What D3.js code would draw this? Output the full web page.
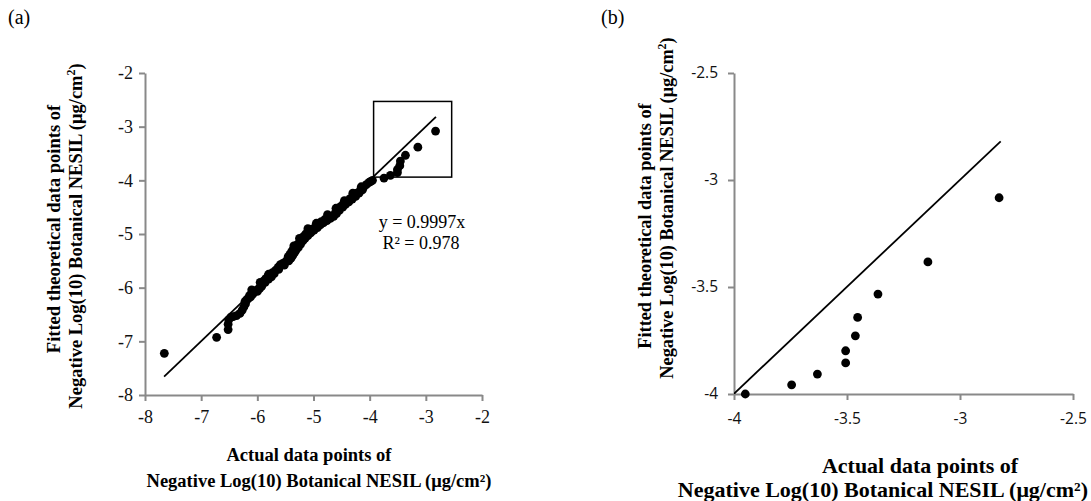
<!DOCTYPE html>
<html><head><meta charset="utf-8">
<script src="https://cdn.jsdelivr.net/npm/d3@7"></script>
<style>
html,body{margin:0;padding:0;background:#fff;}
svg{display:block;}
</style>
</head><body>
<svg id="c" width="1091" height="501"></svg>
<script>
// ---------- data ----------
const actualA = [-7.656,-6.725,-6.52,-6.52,-6.51,-6.47,-6.43,-6.37,-6.31,-6.27,-6.24,-6.22,-6.21,-6.20,-6.18,-6.16,-6.14,-6.12,-6.10,-6.10,-6.08,-6.06,-6.02,-6.00,-5.98,-5.96,-5.95,-5.94,-5.92,-5.91,-5.88,-5.86,-5.85,-5.81,-5.80,-5.80,-5.77,-5.75,-5.73,-5.70,-5.68,-5.63,-5.62,-5.59,-5.55,-5.52,-5.50,-5.46,-5.45,-5.44,-5.42,-5.40,-5.39,-5.37,-5.36,-5.35,-5.34,-5.33,-5.31,-5.29,-5.27,-5.25,-5.25,-5.23,-5.21,-5.19,-5.18,-5.15,-5.14,-5.10,-5.10,-5.09,-5.05,-5.03,-4.99,-4.97,-4.95,-4.93,-4.91,-4.88,-4.86,-4.82,-4.80,-4.76,-4.75,-4.74,-4.70,-4.68,-4.64,-4.62,-4.60,-4.59,-4.57,-4.54,-4.52,-4.48,-4.47,-4.45,-4.43,-4.41,-4.37,-4.35,-4.31,-4.30,-4.29,-4.25,-4.23,-4.19,-4.17,-4.15,-4.13,-4.11,-4.06,-4.01,-3.98,-3.95,-3.745,-3.631,-3.506,-3.506,-3.463,-3.453,-3.363,-3.142,-2.827];
const fittedA = [-7.223,-6.926,-6.78,-6.68,-6.60,-6.55,-6.54,-6.52,-6.48,-6.42,-6.36,-6.26,-6.30,-6.24,-6.22,-6.20,-6.15,-6.17,-6.10,-6.04,-6.12,-6.07,-6.05,-6.07,-6.02,-6.02,-5.90,-5.97,-5.97,-5.92,-5.87,-5.90,-5.83,-5.79,-5.84,-5.75,-5.76,-5.80,-5.72,-5.74,-5.68,-5.62,-5.66,-5.57,-5.55,-5.58,-5.52,-5.47,-5.42,-5.50,-5.38,-5.45,-5.33,-5.40,-5.28,-5.22,-5.35,-5.24,-5.30,-5.20,-5.25,-5.16,-5.08,-5.19,-5.10,-5.13,-5.05,-5.08,-5.00,-4.90,-5.03,-4.95,-4.98,-4.91,-4.93,-4.87,-4.80,-4.88,-4.82,-4.83,-4.77,-4.79,-4.73,-4.75,-4.64,-4.70,-4.71,-4.67,-4.67,-4.62,-4.52,-4.62,-4.55,-4.56,-4.49,-4.50,-4.44,-4.38,-4.45,-4.39,-4.40,-4.34,-4.35,-4.24,-4.29,-4.30,-4.24,-4.24,-4.19,-4.12,-4.18,-4.13,-4.08,-4.04,-4.02,-4.00,-3.957,-3.907,-3.855,-3.798,-3.728,-3.642,-3.533,-3.383,-3.083];
const actualB = [-3.95,-3.745,-3.631,-3.506,-3.506,-3.463,-3.453,-3.363,-3.142,-2.827];
const fittedB = [-4.00,-3.957,-3.907,-3.855,-3.798,-3.728,-3.642,-3.533,-3.383,-3.083];
const fitSlope = 0.9997;
const fitLineX = [-7.66, -2.82];
const zoomBoxX = [-3.93, -2.54];
const zoomBoxY = [-3.94, -2.53];
const ticksA = [-8,-7,-6,-5,-4,-3,-2];
const ticksB = [-4,-3.5,-3,-2.5];
const eqText = ["y = 0.9997x", "R² = 0.978"];
const xTitle = ["Actual data points of", "Negative Log(10) Botanical NESIL (μg/cm²)"];
const yTitle1 = "Fitted theoretical data points of";
const yTitle2 = "Negative Log(10) Botanical NESIL (μg/cm";
const panelLabels = ["(a)", "(b)"];

// ---------- drawing ----------
const svg = d3.select("#c");
const serif = "'Liberation Serif','Times New Roman',serif";
const sans = "'Open Sans','Liberation Sans',sans-serif";
const axisColor = "#898989";

function styleAxis(g, font, size) {
  g.select(".domain").attr("stroke", axisColor).attr("stroke-width", 2);
  g.selectAll(".tick line").attr("stroke", axisColor).attr("stroke-width", 2);
  g.selectAll(".tick text").attr("fill", "#111").style("font-family", font).style("font-size", size + "px");
}

function panel(opts) {
  const x = d3.scaleLinear().domain(opts.dom).range([opts.x0, opts.x1]);
  const y = d3.scaleLinear().domain(opts.dom).range([opts.y0, opts.y1]);
  const g = svg.append("g");

  const clipId = "clip" + opts.id;
  svg.append("defs").append("clipPath").attr("id", clipId)
    .append("rect").attr("x", opts.x0).attr("y", opts.y1)
    .attr("width", opts.x1 - opts.x0).attr("height", opts.y0 - opts.y1);

  const gx = g.append("g").attr("transform", `translate(0,${opts.y0})`)
    .call(d3.axisBottom(x).tickValues(opts.ticks).tickSize(6).tickSizeOuter(0).tickPadding(opts.xpad).tickFormat(d => String(d)));
  styleAxis(gx, opts.tickFont, opts.tickSize);
  const gy = g.append("g").attr("transform", `translate(${opts.x0},0)`)
    .call(d3.axisLeft(y).tickValues(opts.ticks).tickSize(6).tickSizeOuter(0).tickPadding(opts.ypad).tickFormat(d => String(d)));
  styleAxis(gy, opts.tickFont, opts.tickSize);

  // fit line
  g.append("path")
    .datum(fitLineX.map(v => [v, fitSlope * v]))
    .attr("clip-path", `url(#${clipId})`)
    .attr("fill", "none").attr("stroke", "#000").attr("stroke-width", 1.8)
    .attr("d", d3.line().x(d => x(d[0])).y(d => y(d[1])));

  // points
  g.append("g").selectAll("circle")
    .data(opts.ax.map((v, i) => [v, opts.fy[i]]))
    .join("circle")
    .attr("cx", d => x(d[0])).attr("cy", d => y(d[1]))
    .attr("r", opts.r).attr("fill", "#000");
  return {x, y, g};
}

const A = panel({id: "a", dom: [-8, -2], x0: 145, x1: 482, y0: 395, y1: 73,
  ticks: ticksA, ax: actualA, fy: fittedA, r: 4.4,
  tickFont: serif, tickSize: 18, xpad: 9, ypad: 6});

// zoom box in panel a
A.g.append("rect")
  .attr("x", A.x(zoomBoxX[0])).attr("y", A.y(zoomBoxY[1]))
  .attr("width", A.x(zoomBoxX[1]) - A.x(zoomBoxX[0]))
  .attr("height", A.y(zoomBoxY[0]) - A.y(zoomBoxY[1]))
  .attr("fill", "none").attr("stroke", "#000").attr("stroke-width", 1.5);

// equation
A.g.append("text").attr("x", 422).attr("y", 228).attr("text-anchor", "middle")
  .style("font-family", serif).style("font-size", "18px").text(eqText[0]);
A.g.append("text").attr("x", 421).attr("y", 249).attr("text-anchor", "middle")
  .style("font-family", serif).style("font-size", "18px").text(eqText[1]);

const B = panel({id: "b", dom: [-4, -2.5], x0: 734, x1: 1073, y0: 394, y1: 73,
  ticks: ticksB, ax: actualB, fy: fittedB, r: 4.4,
  tickFont: sans, tickSize: 15.5, xpad: 13, ypad: 10});

// titles
function yTitle(cx, cy, bx1, bx2, size) {
  svg.append("text").attr("transform", `translate(${bx1},${cy}) rotate(-90)`)
    .attr("text-anchor", "middle").style("font-family", serif).style("font-weight", "bold")
    .style("font-size", size + "px").text(yTitle1);
  const t2 = svg.append("text").attr("transform", `translate(${bx2},${cx}) rotate(-90)`)
    .attr("text-anchor", "middle").style("font-family", serif).style("font-weight", "bold")
    .style("font-size", size + "px");
  t2.append("tspan").text(yTitle2);
  t2.append("tspan").attr("baseline-shift", "super").style("font-size", (size * 0.65) + "px").text("2");
  t2.append("tspan").text(")");
}
yTitle(236, 229, 60, 82, 18.5);
yTitle(208, 226, 651, 673, 18.3);

function xTitleDraw(c1, c2, b1, b2, size, anchor2) {
  svg.append("text").attr("x", c1).attr("y", b1).attr("text-anchor", "middle")
    .style("font-family", serif).style("font-weight", "bold").style("font-size", size + "px").text(xTitle[0]);
  svg.append("text").attr("x", c2).attr("y", b2).attr("text-anchor", anchor2)
    .style("font-family", serif).style("font-weight", "bold").style("font-size", size + "px").text(xTitle[1]);
}
xTitleDraw(309, 319, 461, 487, 18.5, "middle");
xTitleDraw(920, 1088, 473, 497, 22, "end");

// panel labels
svg.append("text").attr("x", 8).attr("y", 24).style("font-family", serif).style("font-size", "20px").text(panelLabels[0]);
svg.append("text").attr("x", 601).attr("y", 24).style("font-family", serif).style("font-size", "20px").text(panelLabels[1]);
</script>
</body></html>
